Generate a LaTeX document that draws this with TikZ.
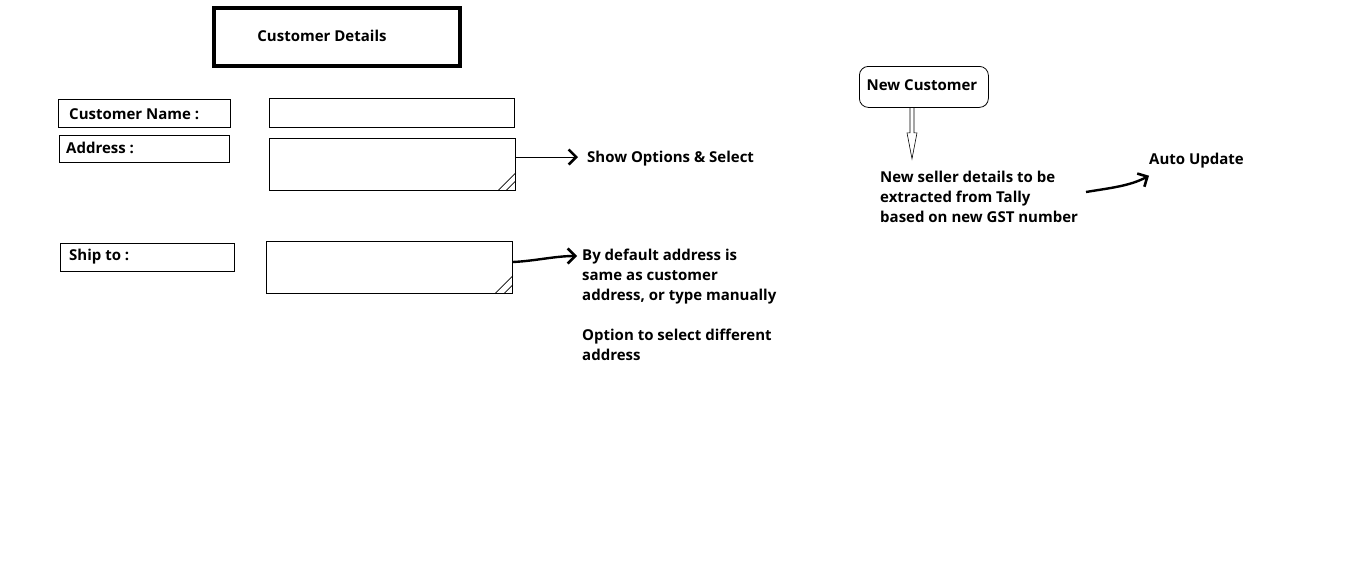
\documentclass[tikz,border=0pt]{standalone}
\usepackage{fontspec}
\setmainfont{Open Sans}
\usetikzlibrary{arrows.meta,calc}
\begin{document}
\begin{tikzpicture}[x=1pt,y=-1pt,
  lbl/.style={font=\bfseries\fontsize{15}{20}\selectfont, inner sep=0pt},
  field/.style={draw, line width=0.8pt, anchor=north west, inner sep=0pt},
  txt/.style={lbl, anchor=west, align=left},
  barb/.style={-{Straight Barb[line width=2.6pt,length=7.5pt,width=15pt]}},
  thickcurve/.style={line width=2.4pt, barb}]
\useasboundingbox (0,0) rectangle (1358,573);
\fill[white] (0,0) rectangle (1358,573);
% title
\node[draw, line width=4pt, minimum width=246pt, minimum height=58pt, anchor=north west, inner sep=0pt] (title) at (212,6) {};
\node[lbl] (titletxt) at (322,36) {Customer Details};
% labels
\node[field, minimum width=172pt, minimum height=28pt] (namelbl) at (58,99) {};
\node[txt] (nametxt) at (69,114) {Customer Name :};
\node[field, minimum width=170pt, minimum height=27pt] (addrlbl) at (59,135) {};
\node[txt] (addrtxt) at (66,148) {Address :};
\node[field, minimum width=174pt, minimum height=28pt] (shiplbl) at (60,243) {};
\node[txt] (shiptxt) at (69,257) {Ship to :};
% inputs
\node[field, minimum width=245pt, minimum height=29pt] (namein) at (269,98) {};
\node[field, minimum width=246pt, minimum height=52pt] (addrin) at (269,138) {};
\node[field, minimum width=246pt, minimum height=52pt] (shipin) at (266,241) {};
% corner hatches
\draw[line width=0.6pt] ($(addrin.south east)+(-18,0)$) -- ($(addrin.south east)+(0,-18)$);
\draw[line width=0.6pt] ($(addrin.south east)+(-10,0)$) -- ($(addrin.south east)+(0,-10)$);
\draw[line width=0.6pt] ($(shipin.south east)+(-18,0)$) -- ($(shipin.south east)+(0,-18)$);
\draw[line width=0.6pt] ($(shipin.south east)+(-9,0)$) -- ($(shipin.south east)+(0,-9)$);
% right texts
\node[txt] (showopt) at (587,159) {Show Options \& Select};
\node[txt, anchor=north west] (shipnote) at (582,249) {By default address is\\same as customer\\address, or type manually\\[20pt]Option to select different\\address};
\coordinate (addrout) at ($(addrin.south east)!0.64!(addrin.north east)$);
\coordinate (showin) at ($(showopt.west)+(-9,0)$);
\draw[line width=0.8pt, barb] (addrout) -- (addrout -| showin);
\coordinate (shipout) at ($(shipin.north east)+(0,21)$);
\draw[thickcurve] (shipout) .. controls (535,261) and (555,256) .. ($(shipnote.north west)+(-5,7)$);
% new customer
\node[draw, line width=0.8pt, rounded corners=9pt, minimum width=129pt, minimum height=41pt, anchor=north west, inner sep=0pt] (newcust) at (859,66) {};
\node[lbl] (newcusttxt) at (922,85) {New Customer};
\node[txt, anchor=north west] (seller) at (880,171) {New seller details to be\\extracted from Tally\\based on new GST number};
\node[lbl, anchor=west] (auto) at (1149,161) {Auto Update};
\coordinate (nctop) at ($(newcust.south west)+(53,0)$);
\draw[line width=0.6pt] ($(nctop)+(-2,0)$) -- ++(0,25) -- ++(-3,0) -- ($(nctop)+(0,51)$) -- ($(nctop)+(5,25)$) -- ++(-3,0) -- ($(nctop)+(2,0)$);
\draw[thickcurve] (1086,192) .. controls (1110,188) and (1130,186) .. ($(auto.south west)+(0,7)$);
\end{tikzpicture}
\end{document}
